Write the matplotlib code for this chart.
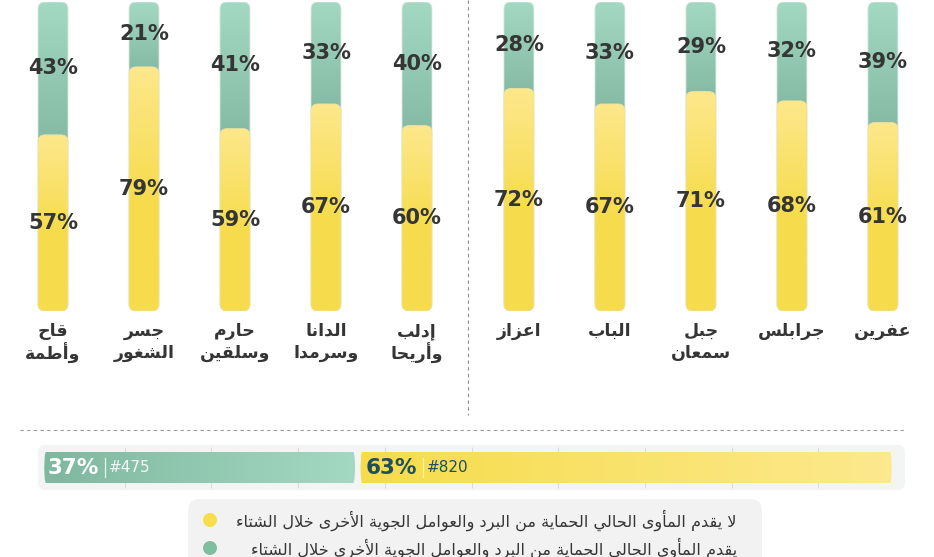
import numpy as np
import matplotlib
matplotlib.use("Agg")
import matplotlib.pyplot as plt
from matplotlib.patches import FancyBboxPatch, Circle
from matplotlib.transforms import offset_copy
import matplotlib.colors as mcolors

# ---------------- data ----------------
categories = ["قاح\nوأطمة", "جسر\nالشغور", "حارم\nوسلقين", "الدانا\nوسرمدا", "إدلب\nوأريحا",
              "اعزاز", "الباب", "جبل\nسمعان", "جرابلس", "عفرين"]
group = [0, 0, 0, 0, 0, 1, 1, 1, 1, 1]
no_protection = [57, 79, 59, 67, 60, 72, 67, 71, 68, 61]   # yellow
protection = [43, 21, 41, 33, 40, 28, 33, 29, 32, 39]      # green

overall_pct = [37, 63]          # protection, no protection
overall_count = [475, 820]

legend_labels = ["لا يقدم المأوى الحالي الحماية من البرد والعوامل الجوية الأخرى خلال الشتاء",
                 "يقدم المأوى الحالي الحماية من البرد والعوامل الجوية الأخرى خلال الشتاء"]

# ---------------- Arabic shaping (presentation forms + RTL) ----------------
_spec = [('\u0621', 0xFE80, 1), ('\u0622', 0xFE81, 2), ('\u0623', 0xFE83, 2), ('\u0624', 0xFE85, 2),
         ('\u0625', 0xFE87, 2), ('\u0626', 0xFE89, 4), ('\u0627', 0xFE8D, 2), ('\u0628', 0xFE8F, 4),
         ('\u0629', 0xFE93, 2), ('\u062A', 0xFE95, 4), ('\u062B', 0xFE99, 4), ('\u062C', 0xFE9D, 4),
         ('\u062D', 0xFEA1, 4), ('\u062E', 0xFEA5, 4), ('\u062F', 0xFEA9, 2), ('\u0630', 0xFEAB, 2),
         ('\u0631', 0xFEAD, 2), ('\u0632', 0xFEAF, 2), ('\u0633', 0xFEB1, 4), ('\u0634', 0xFEB5, 4),
         ('\u0635', 0xFEB9, 4), ('\u0636', 0xFEBD, 4), ('\u0637', 0xFEC1, 4), ('\u0638', 0xFEC5, 4),
         ('\u0639', 0xFEC9, 4), ('\u063A', 0xFECD, 4), ('\u0641', 0xFED1, 4), ('\u0642', 0xFED5, 4),
         ('\u0643', 0xFED9, 4), ('\u0644', 0xFEDD, 4), ('\u0645', 0xFEE1, 4), ('\u0646', 0xFEE5, 4),
         ('\u0647', 0xFEE9, 4), ('\u0648', 0xFEED, 2), ('\u0649', 0xFEEF, 2), ('\u064A', 0xFEF1, 4)]
FORMS = {c: tuple(chr(b + i) for i in range(k)) for c, b, k in _spec}
LAM_ALEF = {'\u0622': ('\uFEF5', '\uFEF6'), '\u0623': ('\uFEF7', '\uFEF8'),
            '\u0625': ('\uFEF9', '\uFEFA'), '\u0627': ('\uFEFB', '\uFEFC')}


def shape_line(line):
    out, i, n, prev_joins = [], 0, len(line), False
    while i < n:
        c = line[i]
        if c not in FORMS:
            out.append(c)
            prev_joins = False
            i += 1
            continue
        if c == '\u0644' and i + 1 < n and line[i + 1] in LAM_ALEF:
            iso, fin = LAM_ALEF[line[i + 1]]
            out.append(fin if prev_joins else iso)
            prev_joins = False
            i += 2
            continue
        f = FORMS[c]
        dual = len(f) == 4
        nxt = line[i + 1] if i + 1 < n else None
        next_joins = dual and nxt is not None and nxt in FORMS and nxt != '\u0621'
        if len(f) == 1:
            g = f[0]
        elif prev_joins and next_joins:
            g = f[3]
        elif prev_joins:
            g = f[1]
        elif next_joins:
            g = f[2]
        else:
            g = f[0]
        out.append(g)
        prev_joins = dual
        i += 1
    return ''.join(reversed(out))


# ---------------- figure ----------------
W, H = 934, 557
fig = plt.figure(figsize=(W / 100, H / 100), dpi=100)
fig.patch.set_facecolor('white')

# overlay in pixel coordinates for decoration
ov = fig.add_axes([0, 0, 1, 1])
ov.set_xlim(0, W)
ov.set_ylim(H, 0)
ov.axis('off')

TXT = '#353535'
G_LIGHT, G_DARK = mcolors.to_rgb('#a3d9c2'), mcolors.to_rgb('#86bba5')
Y_LIGHT, Y_DARK = mcolors.to_rgb('#fde88c'), mcolors.to_rgb('#f6dc4c')

# top bar axes
bar_top_px, bar_bot_px = 2, 311
ax = fig.add_axes([0, 1 - bar_bot_px / H, 1, (bar_bot_px - bar_top_px) / H])
unit_px = 91.0
x_first_px = 53.0
positions = np.arange(len(categories)) + 0.12 * np.array(group)
ax.set_xlim(-x_first_px / unit_px, (W - x_first_px) / unit_px)
ax.set_ylim(0, 100)
ax.axis('off')
px_x = unit_px
px_y = (bar_bot_px - bar_top_px) / 100.0
aspect = px_x / px_y
bw = 30 / unit_px
r = 7 / unit_px


def rounded(axx, x0, y0, w, h, rr, asp, **kw):
    p = FancyBboxPatch((x0, y0), w, h, boxstyle=f"round,pad=0,rounding_size={rr}",
                       mutation_aspect=asp, **kw)
    axx.add_patch(p)
    return p


N = 300
for x, yv, gv in zip(positions, no_protection, protection):
    top = yv + gv
    # green (full stacked bar)
    pg = rounded(ax, x - bw / 2, 0, bw, top, r, aspect, facecolor='none',
                 edgecolor='#d8e8e0', linewidth=0.6, zorder=2)
    ys = np.linspace(0, top, N)
    t = np.clip((ys - yv) / max(gv, 1e-6), 0, 1)[:, None]
    img = (1 - t) * np.array(G_DARK) + t * np.array(G_LIGHT)
    im = ax.imshow(img[:, None, :], extent=[x - bw / 2, x + bw / 2, 0, top], origin='lower',
                   aspect='auto', interpolation='bilinear', zorder=1)
    im.set_clip_path(pg)
    # yellow
    py = rounded(ax, x - bw / 2, 0, bw, yv, r, aspect, facecolor='none',
                 edgecolor='#efe2a0', linewidth=0.6, zorder=4)
    ys = np.linspace(0, yv, N)
    t = np.clip((ys / yv - 0.45) / 0.55, 0, 1)[:, None]
    img = (1 - t) * np.array(Y_DARK) + t * np.array(Y_LIGHT)
    im = ax.imshow(img[:, None, :], extent=[x - bw / 2, x + bw / 2, 0, yv], origin='lower',
                   aspect='auto', interpolation='bilinear', zorder=3)
    im.set_clip_path(py)
    # labels
    ax.text(x, yv + gv / 2, f"{gv}%", ha='center', va='center', fontsize=15,
            fontweight='bold', color=TXT, zorder=6)
    ax.text(x, yv / 2, f"{yv}%", ha='center', va='center', fontsize=15,
            fontweight='bold', color=TXT, zorder=6)

ax.set_xlim(-x_first_px / unit_px, (W - x_first_px) / unit_px)
ax.set_ylim(0, 100)

# category labels
for x, lab in zip(positions, categories):
    for k, line in enumerate(lab.split('\n')):
        tr = offset_copy(ax.transData, fig=fig, x=0, y=-(20 + 22 * k), units='dots')
        ax.text(x, 0, shape_line(line), transform=tr, ha='center', va='center',
                fontsize=12.5, fontweight='bold', color=TXT, family='DejaVu Sans',
                clip_on=False)

# dashed separators
ov.plot([468, 468], [0, 415], color='#8c8c8c', lw=0.8, ls=(0, (3, 3)))
ov.plot([20, 905], [430, 430], color='#9a9a9a', lw=0.8, ls=(0, (3, 3)))

# bottom overall bar background
bg = FancyBboxPatch((38, 445), 867, 45, boxstyle="round,pad=0,rounding_size=7",
                    facecolor='#f3f5f4', edgecolor='none')
ov.add_patch(bg)
axg = fig.add_axes([38 / W, 1 - 490 / H, 867 / W, 45 / H])
axg.set_xlim(0, 100)
axg.set_ylim(0, 1)
axg.axis('off')
axg.vlines(np.arange(10, 100, 10), 0.05, 0.95, color='#dcdcdc', lw=0.8)

axb = fig.add_axes([44 / W, 1 - 483 / H, (892 - 44) / W, 31 / H])
axb.set_xlim(0, 100)
axb.set_ylim(0, 1)
axb.axis('off')
bpx_x = (892 - 44) / 100.0
bpx_y = 31.0
basp = bpx_x / bpx_y
gap = 2.5 / bpx_x
lefts = np.concatenate([[0], np.cumsum(overall_pct)[:-1]])
grad_sets = [(mcolors.to_rgb('#7fb79f'), mcolors.to_rgb('#a3d9c2')),
             (mcolors.to_rgb('#f6dc4a'), mcolors.to_rgb('#fde98e'))]
for i, (l, w) in enumerate(zip(lefts, overall_pct)):
    x0 = l + (gap if i > 0 else 0)
    ww = w - (gap if i > 0 else 0) - (gap if i < len(overall_pct) - 1 else 0)
    p = FancyBboxPatch((x0, 0), ww, 1, boxstyle=f"round,pad=0,rounding_size={2 / bpx_x}",
                       mutation_aspect=1 / basp, facecolor='none', edgecolor='none')
    axb.add_patch(p)
    c0, c1 = grad_sets[i]
    t = np.linspace(0, 1, N)[:, None]
    img = (1 - t) * np.array(c0) + t * np.array(c1)
    im = axb.imshow(img[None, :, :], extent=[x0, x0 + ww, 0, 1], aspect='auto',
                    interpolation='bilinear', zorder=1)
    im.set_clip_path(p)

pct_colors = ['white', '#1d4f5c']
cnt_colors = ['#f2fbf7', '#1d4f5c']
sep_colors = ['#e8f6f0', '#fff3b0']
for i, (l, pc, cn) in enumerate(zip(lefts, overall_pct, overall_count)):
    base = 4 if i == 0 else 8
    tr = offset_copy(axb.transData, fig=fig, x=base, y=0, units='dots')
    axb.text(l, 0.5, f"{pc}%", transform=tr, ha='left', va='center', fontsize=15.5,
             fontweight='bold', color=pct_colors[i], zorder=5)
    tr2 = offset_copy(axb.transData, fig=fig, x=base + 57, y=0, units='dots')
    axb.plot([l, l], [0.2, 0.8], transform=tr2, color=sep_colors[i], lw=0.9, zorder=5)
    tr3 = offset_copy(axb.transData, fig=fig, x=base + 61, y=0, units='dots')
    axb.text(l, 0.5, f"#{cn}", transform=tr3, ha='left', va='center', fontsize=11,
             color=cnt_colors[i], zorder=5)
axb.set_xlim(0, 100)
axb.set_ylim(0, 1)

# legend
lg = FancyBboxPatch((188, 499), 574, 80, boxstyle="round,pad=0,rounding_size=12",
                    facecolor='#f2f2f2', edgecolor='none')
ov.add_patch(lg)
leg_colors = ['#f7df4c', '#80bea2']
for k, (lab, col) in enumerate(zip(legend_labels, leg_colors)):
    yc = 520 + 28 * k
    ov.add_patch(Circle((210, yc), 7, facecolor=col, edgecolor='none'))
    ov.text(737, yc, shape_line(lab), ha='right', va='center', fontsize=11.6, color=TXT,
            family='DejaVu Sans')

fig.savefig('out.png', dpi=100)
